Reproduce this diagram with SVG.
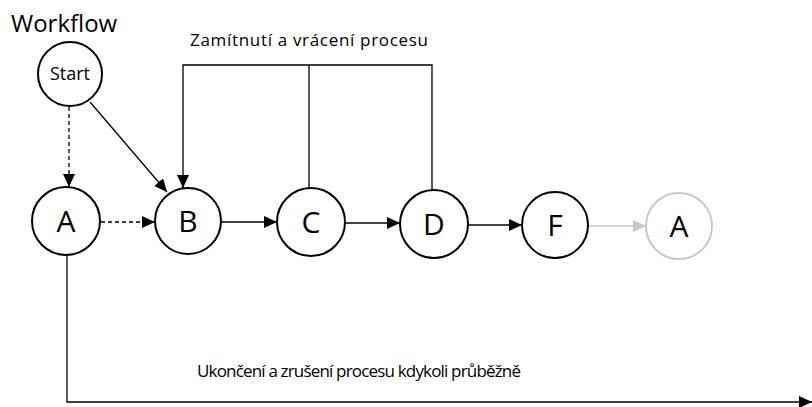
<svg xmlns="http://www.w3.org/2000/svg" width="812" height="407" viewBox="0 0 812 407">
<style>
.node{fill:#fff;stroke:#000;stroke-width:2}
.grey{fill:#fff;stroke:#c8c8c8;stroke-width:2}
.lbl{font-family:"Open Sans","Liberation Sans",sans-serif;fill:#000;text-anchor:middle}
.big{font-size:30px}
.c{fill:none;stroke:#000;stroke-width:1.3}
.d{stroke-dasharray:4,3}
.g{fill:none;stroke:#c8c8c8;stroke-width:1.3}
.t{font-family:"Open Sans","Liberation Sans",sans-serif;fill:#000}
</style>
<defs>
<marker id="ah" markerUnits="userSpaceOnUse" markerWidth="14" markerHeight="12" refX="13" refY="6" orient="auto">
<path d="M0,0 L13,6 L0,12 z" fill="#000"/>
</marker>
<marker id="ahg" markerUnits="userSpaceOnUse" markerWidth="14" markerHeight="12" refX="13" refY="6" orient="auto">
<path d="M0,0 L13,6 L0,12 z" fill="#c8c8c8"/>
</marker>
</defs>
<text class="t" x="11" y="32" font-size="24">Workflow</text>
<text class="t" x="190" y="46" font-size="17" textLength="238">Zamítnutí a vrácení procesu</text>
<text class="t" x="197" y="377" font-size="17" textLength="324">Ukončení a zrušení procesu kdykoli průběžně</text>
<g id="connectors">
<line class="c d" x1="69" y1="107" x2="69" y2="187" marker-end="url(#ah)"/>
<line class="c" x1="90" y1="102" x2="167" y2="192" marker-end="url(#ah)"/>
<line class="c d" x1="101" y1="222" x2="155" y2="222" marker-end="url(#ah)"/>
<line class="c" x1="222" y1="222" x2="277" y2="222" marker-end="url(#ah)"/>
<line class="c" x1="345" y1="223" x2="400" y2="223" marker-end="url(#ah)"/>
<line class="c" x1="468" y1="225" x2="522" y2="225" marker-end="url(#ah)"/>
<line class="g" x1="589" y1="226" x2="646" y2="226" marker-end="url(#ahg)"/>
<path class="c" d="M432,192 V65 H183 V188" marker-end="url(#ah)"/>
<path class="c" d="M309,189 V65"/>
<path class="c" d="M67,255 V402 H812" marker-end="url(#ah)"/>
</g>
<g id="start"><circle class="node" cx="70" cy="74" r="32"/><text class="lbl" x="70" y="80" font-size="18">Start</text></g>
<g id="nodeA"><circle class="node" cx="66" cy="221" r="34"/><text class="lbl big" x="66" y="232">A</text></g>
<g id="nodeB"><circle class="node" cx="188" cy="221" r="33"/><text class="lbl big" x="188" y="232">B</text></g>
<g id="nodeC"><circle class="node" cx="311" cy="222" r="34"/><text class="lbl big" x="311" y="233">C</text></g>
<g id="nodeD"><circle class="node" cx="434" cy="224" r="34"/><text class="lbl big" x="434" y="235">D</text></g>
<g id="nodeF"><circle class="node" cx="555" cy="225" r="33"/><text class="lbl big" x="555" y="236">F</text></g>
<g id="nodeA2"><circle class="grey" cx="679" cy="226" r="33"/><text class="lbl big" x="679" y="237">A</text></g>
</svg>
